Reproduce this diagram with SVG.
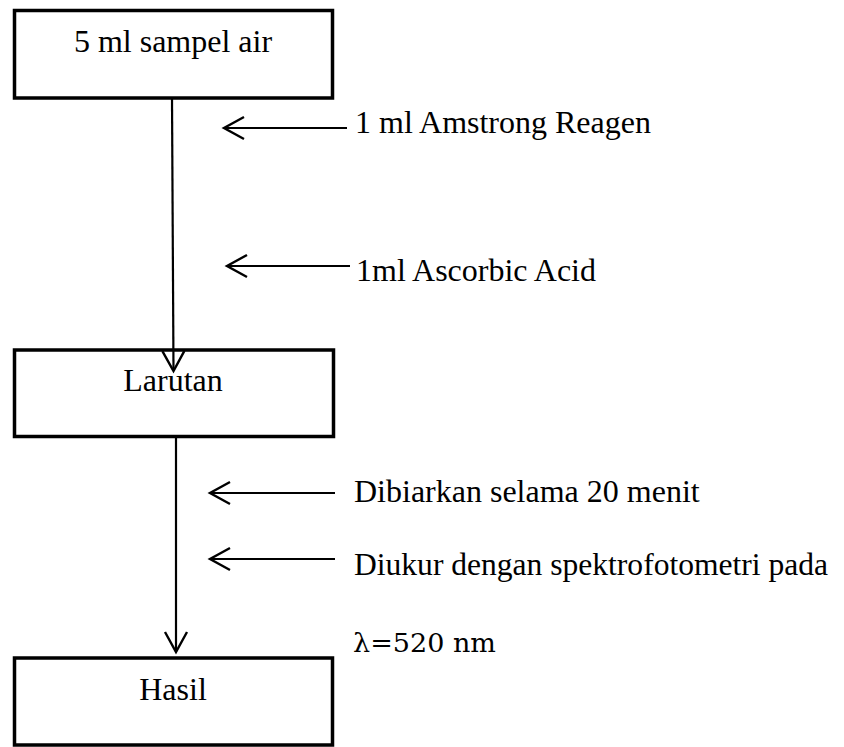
<svg xmlns="http://www.w3.org/2000/svg" width="844" height="747" viewBox="0 0 844 747">
<style>
.box{fill:#fff;stroke:#000;stroke-width:3.5}
.t{font-family:"Liberation Serif","Times New Roman",serif;font-size:32px;fill:#000}
.c{fill:none;stroke:#000;stroke-width:2.2}
.m{font-family:"DejaVu Serif",serif;font-size:26px;fill:#000}
</style>
<defs>
<marker id="ah" markerUnits="userSpaceOnUse" markerWidth="30" markerHeight="30" viewBox="-24 -15 30 30" refX="0" refY="0" orient="auto">
<path d="M-20,-11 L0,0 L-20,11" fill="none" stroke="#000" stroke-width="2.4"/>
</marker>
</defs>
<rect width="844" height="747" fill="#fff"/>
<g id="n1"><rect class="box" x="14.5" y="10.5" width="318" height="87.5"/><text class="t" x="173" y="52" text-anchor="middle">5 ml sampel air</text></g>
<g id="n2"><rect class="box" x="14.5" y="350" width="319" height="86.5"/><text class="t" x="173" y="391" text-anchor="middle">Larutan</text></g>
<g id="n3"><rect class="box" x="14.5" y="658" width="318" height="87"/><text class="t" x="173" y="700" text-anchor="middle">Hasil</text></g>
<g id="connectors">
<line class="c" x1="172" y1="99" x2="173.5" y2="371" marker-end="url(#ah)"/>
<line class="c" x1="176" y1="438" x2="176" y2="652" marker-end="url(#ah)"/>
<line class="c" x1="347" y1="128" x2="224" y2="128" marker-end="url(#ah)"/>
<line class="c" x1="350" y1="266" x2="227" y2="266" marker-end="url(#ah)"/>
<line class="c" x1="335" y1="493" x2="210" y2="493" marker-end="url(#ah)"/>
<line class="c" x1="335" y1="559" x2="210" y2="559" marker-end="url(#ah)"/>
</g>
<g id="labels">
<text class="t" x="355" y="133">1 ml Amstrong Reagen</text>
<text class="t" x="356" y="281">1ml Ascorbic Acid</text>
<text class="t" x="354" y="502">Dibiarkan selama 20 menit</text>
<text class="t" x="354" y="575" textLength="474" lengthAdjust="spacingAndGlyphs">Diukur dengan spektrofotometri pada</text>
<text class="m" x="353" y="652" textLength="143" lengthAdjust="spacingAndGlyphs">λ=520 nm</text>
</g>
</svg>
